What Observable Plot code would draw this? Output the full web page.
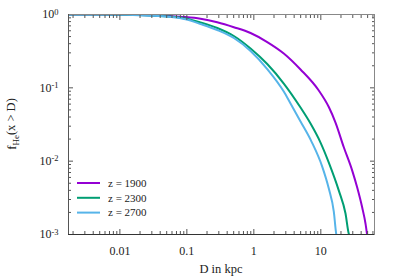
<!DOCTYPE html>
<html><head><meta charset="utf-8">
<script src="https://cdn.jsdelivr.net/npm/d3@7"></script>
<script src="https://cdn.jsdelivr.net/npm/@observablehq/plot@0.6"></script>
<style>
body{margin:0;background:#fff}
#chart{position:relative;width:399px;height:279px}
#chart svg, #chart svg text{font-family:"Liberation Serif","Times New Roman",Times,"DejaVu Serif","Noto Serif",serif !important}
</style>
</head><body><div id="chart"></div>
<script>
const seriesNames = ["z = 1900", "z = 2300", "z = 2700"];
const seriesColors = ["#9400d3", "#009e73", "#56b4e9"];

const z1900_D = [0.00171, 0.00515, 0.0102, 0.0287, 0.0571, 0.0956, 0.160, 0.284, 0.503, 0.893, 1.585, 2.80, 4.98, 9.33, 13.16, 16.57, 22.04, 29.43, 34.94, 41.49, 46.47, 49.27];
const z1900_f = [1, 0.998, 0.991, 0.975, 0.951, 0.922, 0.874, 0.783, 0.671, 0.559, 0.421, 0.294, 0.178, 0.0919, 0.0547, 0.0336, 0.01547, 0.00744, 0.00436, 0.00233, 0.00141, 0.00097];

const z2300_D = [0.00171, 0.00515, 0.0287, 0.0571, 0.0956, 0.160, 0.284, 0.503, 0.893, 1.585, 2.80, 4.98, 7.02, 9.90, 13.16, 18.57, 23.37, 26.18, 26.8];
const z2300_f = [1, 0.998, 0.969, 0.939, 0.882, 0.778, 0.654, 0.509, 0.344, 0.211, 0.1145, 0.0539, 0.0326, 0.01794, 0.00957, 0.00397, 0.00193, 0.00102, 0.00097];

const z2700_D = [0.00171, 0.00515, 0.0287, 0.0571, 0.0956, 0.160, 0.284, 0.503, 0.893, 1.585, 2.80, 3.53, 4.98, 7.26, 10.49, 13.16, 15.63, 16.98, 17.15];
const z2700_f = [1, 0.998, 0.963, 0.924, 0.860, 0.742, 0.615, 0.478, 0.318, 0.1805, 0.0890, 0.0611, 0.0347, 0.0185, 0.00844, 0.00423, 0.00205, 0.00102, 0.00097];

const xTicks = [0.01, 0.1, 1, 10];
const xTickLabels = ["0.01", "0.1", "1", "10"];
const yTicks = [1, 0.1, 0.01, 0.001];
const yTickExponents = ["0", "-1", "-2", "-3"];
const xDomain = [0.00171, 63.3];
const yDomain = [0.001, 1];

const allD = [z1900_D, z2300_D, z2700_D];
const allF = [z1900_f, z2300_f, z2700_f];
const rows = [];
seriesNames.forEach((s, k) => allD[k].forEach((d, i) => rows.push({series: s, D: d, f: allF[k][i]})));

const xMinor = [];
for (let e = -3; e <= 1; e++) for (let m = 2; m <= 9; m++) { const v = m * Math.pow(10, e); if (v > xDomain[0] && v < xDomain[1]) xMinor.push(v); }
const yMinor = [];
for (let e = -3; e <= -1; e++) for (let m = 2; m <= 9; m++) yMinor.push(m * Math.pow(10, e));

const FONT = '"Liberation Serif","Times New Roman",Times,"DejaVu Serif","Noto Serif",serif';
const tickStroke = "#555";
const plot = Plot.plot({
  width: 399, height: 279,
  marginLeft: 68, marginRight: 25, marginTop: 14, marginBottom: 45,
  x: {type: "log", domain: xDomain},
  y: {type: "log", domain: yDomain},
  color: {domain: seriesNames, range: seriesColors},
  style: {fontFamily: FONT, fontSize: "12px", background: "white", color: "#222"},
  marks: [
    Plot.line(rows, {x: "D", y: "f", z: "series", stroke: "series", strokeWidth: 2, curve: "monotone-x", clip: true}),
    Plot.axisX(xTicks, {anchor: "bottom", tickSize: 0, tickPadding: 12, tickFormat: d => xTickLabels[xTicks.indexOf(d)], label: null}),
    Plot.axisY(yTicks, {anchor: "left", tickSize: 0, tickPadding: 10, tickFormat: d => "10^" + yTickExponents[yTicks.indexOf(d)], label: null}),
    Plot.axisX(xTicks, {anchor: "bottom", tickSize: -5, tickFormat: () => "", label: null, stroke: tickStroke}),
    Plot.axisX(xTicks, {anchor: "top", tickSize: -5, tickFormat: () => "", label: null, stroke: tickStroke}),
    Plot.axisX(xMinor, {anchor: "bottom", tickSize: -3, tickFormat: () => "", label: null, stroke: tickStroke}),
    Plot.axisX(xMinor, {anchor: "top", tickSize: -3, tickFormat: () => "", label: null, stroke: tickStroke}),
    Plot.axisY(yTicks, {anchor: "left", tickSize: -5, tickFormat: () => "", label: null, stroke: tickStroke}),
    Plot.axisY(yTicks, {anchor: "right", tickSize: -5, tickFormat: () => "", label: null, stroke: tickStroke}),
    Plot.axisY(yMinor, {anchor: "left", tickSize: -3, tickFormat: () => "", label: null, stroke: tickStroke}),
    Plot.axisY(yMinor, {anchor: "right", tickSize: -3, tickFormat: () => "", label: null, stroke: tickStroke}),
    Plot.frame({stroke: "#888"}),
    Plot.ruleY([yDomain[0]], {stroke: "#333"}),
    Plot.ruleX([xDomain[0]], {stroke: "#555"})
  ]
});
document.getElementById("chart").appendChild(plot);

const svg = d3.select(plot);
// superscript exponents on y tick labels
svg.selectAll("text").each(function() {
  const t = this.textContent;
  const m = /^10\^(-?\d)$/.exec(t);
  if (m) {
    const el = d3.select(this);
    el.text("10");
    el.append("tspan").attr("dy", "-0.45em").attr("font-size", "8.5px").text(m[1]);
  }
});

// axis titles
const fx = plot.scale("x"), fy = plot.scale("y");
const cx = (fx.range[0] + fx.range[1]) / 2;
const cy = (fy.range[0] + fy.range[1]) / 2;
svg.append("text").attr("x", cx).attr("y", 273).attr("text-anchor", "middle")
  .attr("font-family", FONT).attr("font-size", "12.5px").attr("fill", "#222").text("D in kpc");
const yl = svg.append("text").attr("transform", `translate(16,${cy}) rotate(-90)`).attr("text-anchor", "middle")
  .attr("font-family", FONT).attr("font-size", "12.5px").attr("fill", "#222");
yl.append("tspan").text("f");
yl.append("tspan").attr("dy", "0.3em").attr("font-size", "9px").text("He");
yl.append("tspan").attr("dy", "-0.3em").text("(x > D)");

// legend
const lg = svg.append("g").attr("font-family", FONT).attr("font-size", "11px").attr("fill", "#222").attr("text-anchor", "start");
seriesNames.forEach((s, i) => {
  const y = 183 + i * 14.8;
  lg.append("line").attr("x1", 77).attr("x2", 100).attr("y1", y).attr("y2", y).attr("stroke", seriesColors[i]).attr("stroke-width", 2);
  lg.append("text").attr("x", 108).attr("y", y).attr("dy", "0.35em").attr("text-anchor", "start").text(s);
});
</script>
</body></html>
